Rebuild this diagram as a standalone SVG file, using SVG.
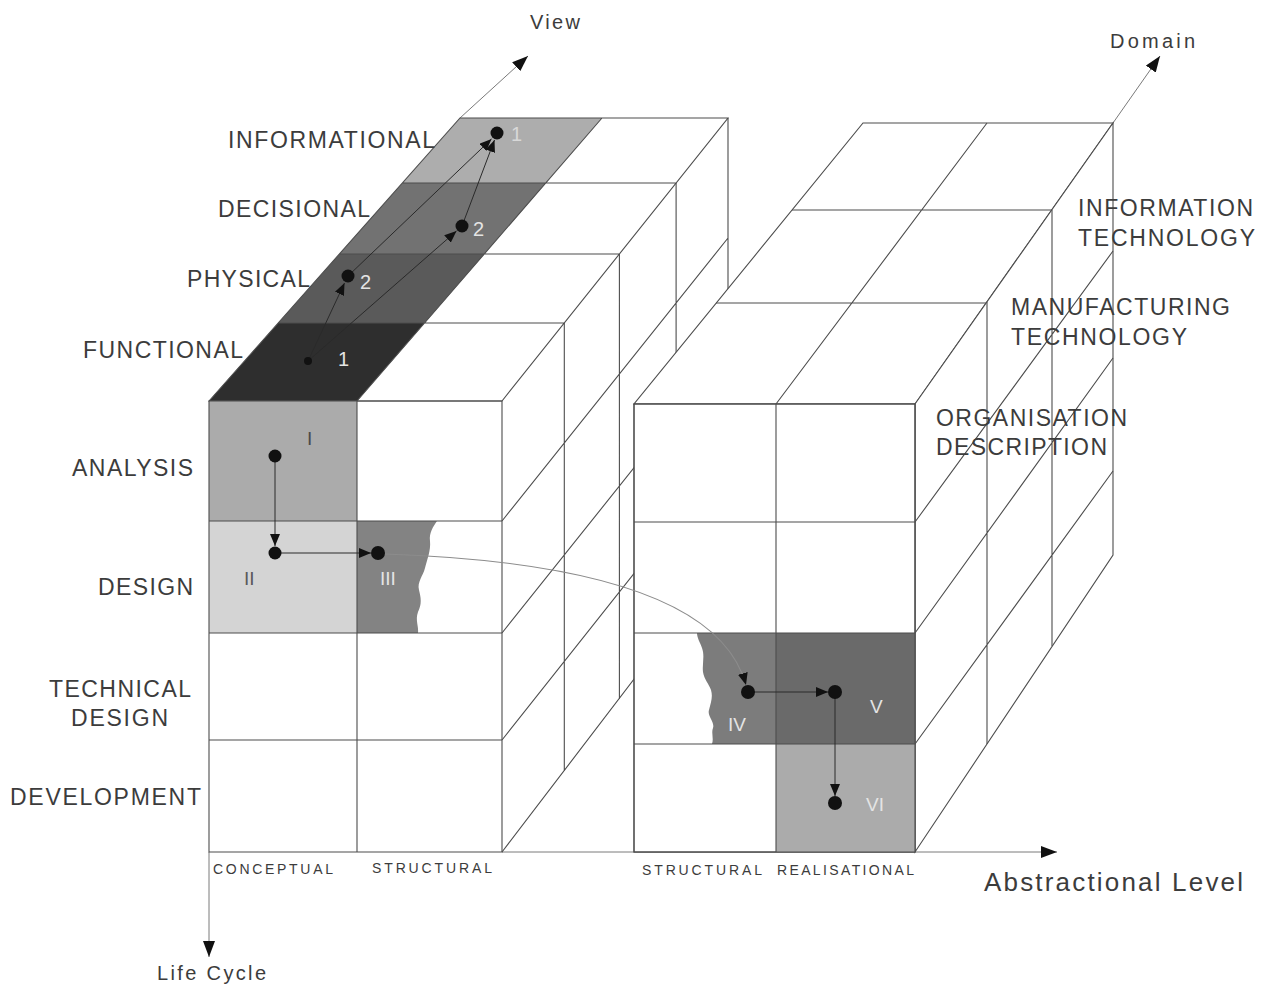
<svg xmlns="http://www.w3.org/2000/svg" width="1271" height="991" viewBox="0 0 1271 991">
<style>
  .edge{fill:none;stroke:#4d4d4d;stroke-width:1.1}
  .face{fill:#fff;stroke:#4d4d4d;stroke-width:1.1}
  .axis{fill:none;stroke:#7a7a7a;stroke-width:1}
  .flow{fill:none;stroke:#2a2a2a;stroke-width:1}
  .curve{fill:none;stroke:#8c8c8c;stroke-width:1.1}
  .dot{fill:#111}
  text{font-family:"Liberation Sans",Arial,sans-serif;fill:#3c3c3c}
  .big{font-size:23px}
  .small{font-size:14px}
  .num{font-size:20px}
  .rom{font-size:19px}
  .light{fill:#e4e4e4}
</style>
<defs>
  <marker id="head" viewBox="0 0 12 10" markerWidth="12" markerHeight="10" refX="12" refY="5" orient="auto" markerUnits="userSpaceOnUse">
    <path d="M0,0 L12,5 L0,10 Z" fill="#111"/>
  </marker>
  <marker id="axisHead" viewBox="0 0 16 12" markerWidth="16" markerHeight="12" refX="16" refY="6" orient="auto" markerUnits="userSpaceOnUse">
    <path d="M0,0 L16,6 L0,12 Z" fill="#111"/>
  </marker>
</defs>

<!-- axes -->
<g id="axes">
  <path class="axis" d="M460,118 L528,56" marker-end="url(#axisHead)"/>
  <path class="axis" d="M1113,123 L1160,56" marker-end="url(#axisHead)"/>
  <path class="axis" d="M209,852 L209,957" marker-end="url(#axisHead)"/>
  <path class="axis" d="M502,852 L1057,852" marker-end="url(#axisHead)"/>
  <text x="530" y="29" font-size="20" textLength="50" lengthAdjust="spacing">View</text>
  <text x="1110" y="48" font-size="20" textLength="85" lengthAdjust="spacing">Domain</text>
  <text x="984" y="891" font-size="26" textLength="259" lengthAdjust="spacing">Abstractional Level</text>
  <text x="157" y="980" font-size="20" textLength="109" lengthAdjust="spacing">Life Cycle</text>
</g>

<!-- left block: conceptual / structural -->
<g id="left-block">
  <!-- view layers on the top face -->
  <polygon points="209,401 357,401 424.5,323 278.2,323" fill="#2e2e2e"/>
  <polygon points="278.2,323 424.5,323 484.3,254 339.4,254" fill="#5a5a5a"/>
  <polygon points="339.4,254 484.3,254 545.8,183 402.4,183" fill="#727272"/>
  <polygon points="402.4,183 545.8,183 602,118 460,118" fill="#adadad"/>
  <path class="edge" d="M209,401 L460,118 L728,118 L502,401 Z M357,401 L602,118 M278.2,323 H564.3 M339.4,254 H619.4 M402.4,183 H676.1"/>
  <!-- front face cells -->
  <rect x="209" y="401" width="148" height="120" fill="#ababab"/>
  <rect x="209" y="521" width="148" height="112" fill="#d4d4d4"/>
  <path d="M357,521 L437,521 C433,527 429,533 430,541 C431,550 427,560 425,568 C423,576 417,582 419,590 C421,598 422,604 418,612 C415,620 419,627 418,633 L357,633 Z" fill="#838383"/>
  <path class="edge" d="M209,401 H502 V852 H209 Z M357,401 V852 M209,521 H502 M209,633 H502 M209,740 H502"/>
  <!-- right face -->
  <path class="edge" d="M564.3,323 V771 M619.4,254 V699 M676.1,183 V640 M728,118 V556 M502,521 L728,238 M502,633 L728,350 M502,740 L728,455 M502,852 L728,556"/>
</g>

<!-- right block: structural / realisational -->
<g id="right-block">
  <polygon class="face" points="634,404 915,404 1113,123 863,123"/>
  <path class="edge" d="M776,404 L987,123 M716,303 H987 M792,210 H1052"/>
  <polygon class="face" points="915,404 1113,123 1113,555 915,852"/>
  <path class="edge" d="M987,302 V744 M1052,210 V646 M915,522 L1113,251 M915,633 L1113,358 M915,744 L1113,471"/>
  <rect class="face" x="634" y="404" width="281" height="448"/>
  <path d="M697,633 L776,633 L776,744 L712,744 C714,738 711,733 713,728 C715,722 707,716 709,710 C711,702 713,697 711,690 C709,684 704,679 703,672 C702,664 705,656 702,648 C700,642 697,638 697,633 Z" fill="#7c7c7c"/>
  <rect x="776" y="633" width="139" height="111" fill="#6a6a6a"/>
  <rect x="776" y="744" width="139" height="108" fill="#ababab"/>
  <path class="edge" d="M634,404 H915 V852 H634 Z M776,404 V852 M634,522 H915 M634,633 H915 M634,744 H915"/>
</g>

<!-- row, layer and column captions -->
<g id="captions">
  <text class="big" x="228" y="148" textLength="207" lengthAdjust="spacing">INFORMATIONAL</text>
  <text class="big" x="218" y="217" textLength="152" lengthAdjust="spacing">DECISIONAL</text>
  <text class="big" x="187" y="287" textLength="123" lengthAdjust="spacing">PHYSICAL</text>
  <text class="big" x="83" y="358" textLength="160" lengthAdjust="spacing">FUNCTIONAL</text>
  <text class="big" x="72" y="476" textLength="121" lengthAdjust="spacing">ANALYSIS</text>
  <text class="big" x="98" y="595" textLength="95" lengthAdjust="spacing">DESIGN</text>
  <text class="big" x="49" y="697" textLength="142" lengthAdjust="spacing">TECHNICAL</text>
  <text class="big" x="71" y="726" textLength="97" lengthAdjust="spacing">DESIGN</text>
  <text class="big" x="10" y="805" textLength="191" lengthAdjust="spacing">DEVELOPMENT</text>
  <text class="big" x="1078" y="216" textLength="175" lengthAdjust="spacing">INFORMATION</text>
  <text class="big" x="1078" y="246" textLength="177" lengthAdjust="spacing">TECHNOLOGY</text>
  <text class="big" x="1011" y="315" textLength="219" lengthAdjust="spacing">MANUFACTURING</text>
  <text class="big" x="1011" y="345" textLength="176" lengthAdjust="spacing">TECHNOLOGY</text>
  <text class="big" x="936" y="426" textLength="191" lengthAdjust="spacing">ORGANISATION</text>
  <text class="big" x="936" y="455" textLength="171" lengthAdjust="spacing">DESCRIPTION</text>
  <text class="small" x="213" y="874" textLength="120" lengthAdjust="spacing">CONCEPTUAL</text>
  <text class="small" x="372" y="873" textLength="120" lengthAdjust="spacing">STRUCTURAL</text>
  <text class="small" x="642" y="875" textLength="120" lengthAdjust="spacing">STRUCTURAL</text>
  <text class="small" x="777" y="875" textLength="137" lengthAdjust="spacing">REALISATIONAL</text>
</g>

<!-- connectors between steps -->
<g id="connectors">
  <path class="flow" d="M308,361 L344.5,283" marker-end="url(#head)"/>
  <path class="flow" d="M308,361 L456.5,231" marker-end="url(#head)"/>
  <path class="flow" d="M348,276 L491.5,139" marker-end="url(#head)"/>
  <path class="flow" d="M462,226 L494.5,140" marker-end="url(#head)"/>
  <path class="flow" d="M275,456 L275,546" marker-end="url(#head)"/>
  <path class="flow" d="M275,553 L371,553" marker-end="url(#head)"/>
  <path class="curve" d="M385,554 C560,560 720,590 746,685" marker-end="url(#head)"/>
  <path class="flow" d="M748,692 L828,692" marker-end="url(#head)"/>
  <path class="flow" d="M835,692 L835,796" marker-end="url(#head)"/>
</g>

<!-- step nodes -->
<g id="step-functional"><circle class="dot" cx="308" cy="361" r="4"/><text class="num light" x="338" y="366">1</text></g>
<g id="step-physical"><circle class="dot" cx="348" cy="276" r="6.5"/><text class="num light" x="360" y="289">2</text></g>
<g id="step-decisional"><circle class="dot" cx="462" cy="226" r="6.5"/><text class="num light" x="473" y="236">2</text></g>
<g id="step-informational"><circle class="dot" cx="497" cy="133" r="6.5"/><text class="num" x="511" y="141" style="fill:#d8d8d8">1</text></g>
<g id="step-I"><circle class="dot" cx="275" cy="456" r="6.5"/><text class="rom" x="307" y="445" style="fill:#4a4a4a">I</text></g>
<g id="step-II"><circle class="dot" cx="275" cy="553" r="6.5"/><text class="rom" x="244" y="585" style="fill:#5a5a5a">II</text></g>
<g id="step-III"><circle class="dot" cx="378" cy="553" r="7"/><text class="rom light" x="380" y="585">III</text></g>
<g id="step-IV"><circle class="dot" cx="748" cy="692" r="7"/><text class="rom light" x="728" y="731">IV</text></g>
<g id="step-V"><circle class="dot" cx="835" cy="692" r="7"/><text class="rom light" x="870" y="713">V</text></g>
<g id="step-VI"><circle class="dot" cx="835" cy="803" r="7"/><text class="rom light" x="866" y="811">VI</text></g>
</svg>
